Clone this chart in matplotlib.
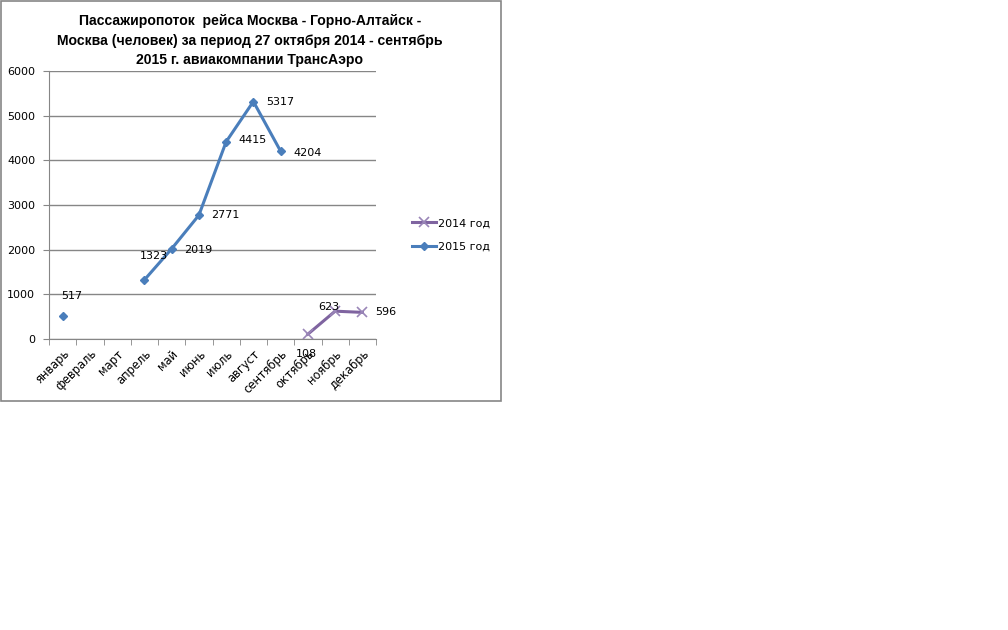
import numpy as np
import matplotlib; matplotlib.use("Agg"); import matplotlib.pyplot as plt
from matplotlib.patches import Rectangle

months = ["январь", "февраль", "март", "апрель", "май", "июнь", "июль",
          "август", "сентябрь", "октябрь", "ноябрь", "декабрь"]
y2014 = [np.nan] * 9 + [108, 623, 596]
y2015 = [517, np.nan, np.nan, 1323, 2019, 2771, 4415, 5317, 4204, np.nan, np.nan, np.nan]
title = ("Пассажиропоток  рейса Москва - Горно-Алтайск -\n"
         "Москва (человек) за период 27 октября 2014 - сентябрь\n"
         "2015 г. авиакомпании ТрансАэро")

C14, C15, GR = "#7f64a0", "#4a7ebb", "#868686"
W, H = 1008, 630

fig = plt.figure(figsize=(W / 100, H / 100), dpi=100)
fig.patches.append(Rectangle((0.5 / W, 1 - 401 / H), 500 / W, 400 / H, transform=fig.transFigure,
                             fill=False, ec=GR, lw=1.2))
ax = fig.add_axes([49 / W, 1 - 339 / H, 327 / W, 268 / H])
x = np.arange(12)
ax.plot(x, y2014, color=C14, lw=2.2, marker="x", ms=7, mew=1.2, mec="#9a86b8", label="2014 год")
ax.plot(x, y2015, color=C15, lw=2.2, marker="D", ms=4.5, mfc=C15, mec=C15, label="2015 год")

# value labels (offsets in points, left edge of text)
offs15 = {0: (-1, 14), 3: (-3, 17), 4: (9, -1), 5: (9, 0), 6: (9, 1), 7: (9, 0), 8: (9, -1)}
for i, v in enumerate(y2015):
    if not np.isnan(v):
        dx, dy = offs15[i]
        ax.annotate(f"{v:.0f}", (i, v), xytext=(dx, dy), textcoords="offset points",
                    fontsize=8, va="center", ha="left")
offs14 = {9: (-9, -14), 10: (-12, 3), 11: (9, 0)}
for i, v in enumerate(y2014):
    if not np.isnan(v):
        dx, dy = offs14[i]
        ax.annotate(f"{v:.0f}", (i, v), xytext=(dx, dy), textcoords="offset points",
                    fontsize=8, va="center", ha="left")

ax.set_xlim(-0.5, 11.5); ax.set_ylim(0, 6000)
ax.set_yticks(range(0, 6001, 1000))
ax.yaxis.grid(True, color=GR, lw=1); ax.set_axisbelow(True)
ax.set_xticks(x); ax.set_xticklabels(months, rotation=45, ha="right", va="top",
                                     rotation_mode="anchor", fontsize=8.3)
ax.set_xticks(np.arange(-0.5, 12), minor=True)
ax.tick_params(axis="x", which="major", length=0, pad=6)
ax.tick_params(axis="x", which="minor", length=4, color=GR, direction="out")
ax.tick_params(axis="y", length=4, color=GR, labelsize=8, pad=6)
for s in ("top", "right"):
    ax.spines[s].set_visible(False)
for s in ("left", "bottom"):
    ax.spines[s].set_color(GR)

fig.text(250 / W, 1 - 14 / H, title, ha="center", va="top", fontsize=10.1, fontweight="bold",
         family="Liberation Sans", linespacing=1.5)
fig.legend(loc="center left", bbox_to_anchor=(402 / W, 1 - 235 / H), frameon=False,
           fontsize=8, handlelength=2.2, handletextpad=0.1, labelspacing=1.2)

fig.savefig("out.png", dpi=100)
